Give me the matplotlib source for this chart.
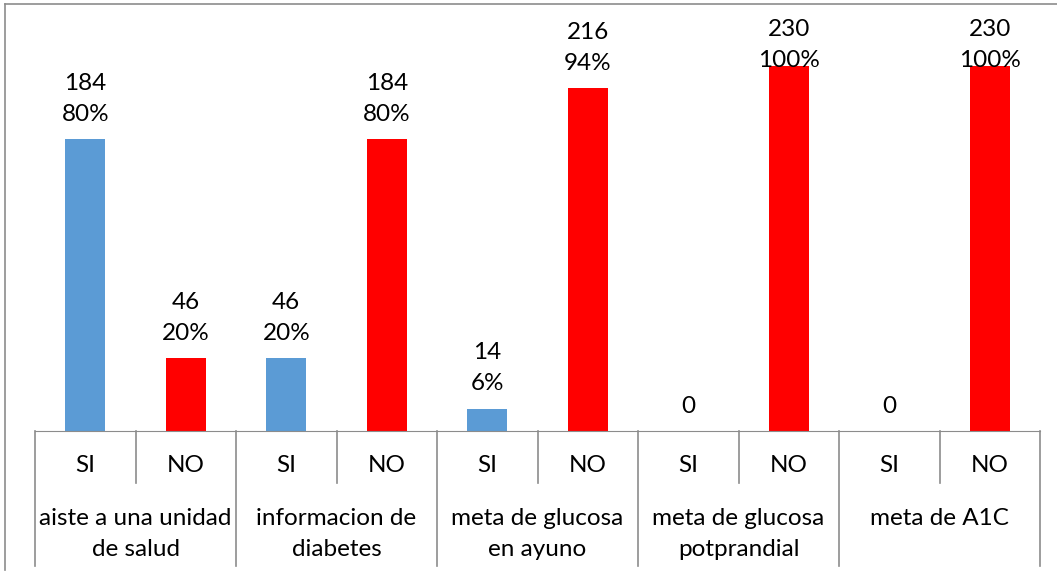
import numpy as np
import matplotlib.pyplot as plt
from matplotlib.lines import Line2D

groups = ['aiste a una unidad\nde salud', 'informacion de\ndiabetes',
          'meta de glucosa\nen ayuno', 'meta de glucosa\npotprandial', 'meta de A1C']
answers = ['SI', 'NO']
si_counts = [184, 46, 14, 0, 0]
no_counts = [46, 184, 216, 230, 230]
si_pct = ['80%', '20%', '6%', '', '']
no_pct = ['20%', '80%', '94%', '100%', '100%']

plt.rcParams['font.family'] = ['Lato', 'DejaVu Sans']
W, H = 1057, 578
fig = plt.figure(figsize=(W / 100, H / 100), dpi=100)

# plot area in pixels: x 35..1040, baseline at y=431, top at y=10
ax = fig.add_axes([35 / W, (H - 431) / H, 1005 / W, 421 / H])
ymax = 421 / 1.587
ax.set_xlim(0, 10)
ax.set_ylim(0, ymax)

blue, red = '#5B9BD5', '#FF0000'
gray = '#8C8C8C'
fs = 17.5
ls = 1.6

vals, labs, cols = [], [], []
for s, n, sp, npct in zip(si_counts, no_counts, si_pct, no_pct):
    vals += [s, n]
    labs += [f'{s}\n{sp}' if sp else f'{s}', f'{n}\n{npct}']
    cols += [blue, red]

x = np.arange(10) + 0.5
ax.bar(x, vals, width=0.4, color=cols)
for xi, v, lab in zip(x, vals, labs):
    ax.text(xi, min(v + 9, 227), lab, ha='center', va='bottom',
            fontsize=fs, linespacing=ls)

for sp in ['top', 'right', 'left']:
    ax.spines[sp].set_visible(False)
ax.spines['bottom'].set_color(gray)
ax.set_xticks([])
ax.set_yticks([])

tr = ax.get_xaxis_transform()
px = 1 / 421.0  # axes fraction per pixel (vertical)
for i in range(11):
    bottom = -135 * px if i % 2 == 0 else -52 * px
    ax.add_line(Line2D([i, i], [0, bottom], transform=tr, color=gray,
                       lw=1.2, clip_on=False))
for i in range(10):
    ax.text(i + 0.5, -34 * px, answers[i % 2], transform=tr, ha='center',
            va='center', fontsize=fs)
for g, name in enumerate(groups):
    ax.text(2 * g + 1, -77 * px, name, transform=tr, ha='center', va='top',
            fontsize=fs, linespacing=ls)

# chart border
fig.add_artist(Line2D([5 / W, 1], [1 - 4 / H, 1 - 4 / H], color=gray, lw=1.2))
fig.add_artist(Line2D([5 / W, 5 / W], [1 - 4 / H, 1 - 570 / H], color=gray, lw=1.2))

fig.savefig('out.png', dpi=100)
